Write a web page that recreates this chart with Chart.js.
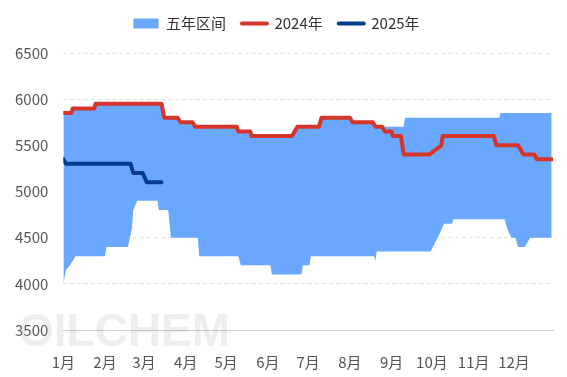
<!DOCTYPE html>
<html>
<head>
<meta charset="utf-8">
<script src="https://cdn.jsdelivr.net/npm/chart.js@4.4.1/dist/chart.umd.min.js"></script>
<style>
  html, body { margin: 0; padding: 0; background: #fff; }
  #wrap { width: 567px; height: 377px; }
</style>
</head>
<body>
<div id="wrap"><canvas id="chart"></canvas></div>
<script>
// ---- Data (x = day of year, 0 = 1 Jan) ----
const monthLabels = ["1月", "2月", "3月", "4月", "5月", "6月", "7月", "8月", "9月", "10月", "11月", "12月"];
const monthStartDays = [0, 31, 60, 91, 121, 152, 182, 213, 244, 274, 305, 335];

// five-year range, upper edge
const rangeMaxDays = [0, 6, 7, 23, 24, 73, 75, 85, 87, 96, 98, 129, 130, 139, 140, 170, 174, 190, 192, 213, 215, 230, 232, 253, 254, 324, 325, 363];
const rangeMaxVals = [5850, 5850, 5900, 5900, 5950, 5950, 5800, 5800, 5750, 5750, 5700, 5700, 5650, 5650, 5600, 5600, 5700, 5700, 5800, 5800, 5750, 5750, 5700, 5700, 5800, 5800, 5850, 5850];

// five-year range, lower edge
const rangeMinDays = [0, 2, 5, 9, 31, 32, 48, 51, 52, 55, 70, 71, 78, 80, 100, 101, 130, 132, 154, 155, 177, 178, 183, 184, 231, 232, 233, 273, 280, 283, 289, 290, 328, 330, 333, 336, 338, 343, 347, 363];
const rangeMinVals = [4000, 4150, 4200, 4300, 4300, 4400, 4400, 4600, 4800, 4900, 4900, 4800, 4800, 4500, 4500, 4300, 4300, 4200, 4200, 4100, 4100, 4200, 4200, 4300, 4300, 4250, 4350, 4350, 4550, 4650, 4650, 4700, 4700, 4600, 4500, 4500, 4400, 4400, 4500, 4500];

const y2024Days = [0, 6, 7, 23, 24, 73, 75, 85, 87, 96, 98, 129, 130, 139, 140, 170, 174, 190, 192, 213, 215, 230, 232, 237, 239, 244, 245, 251, 253, 272, 281, 282, 320, 322, 338, 342, 350, 352, 364];
const y2024Vals = [5850, 5850, 5900, 5900, 5950, 5950, 5800, 5800, 5750, 5750, 5700, 5700, 5650, 5650, 5600, 5600, 5700, 5700, 5800, 5800, 5750, 5750, 5700, 5700, 5650, 5650, 5600, 5600, 5400, 5400, 5500, 5600, 5600, 5500, 5500, 5400, 5400, 5350, 5350];

const y2025Days = [0, 2, 50, 52, 59, 62, 73];
const y2025Vals = [5350, 5300, 5300, 5200, 5200, 5100, 5100];

const BAND = "#6aa7fe";
const RED = "#d6352a";
const NAVY = "#003c8c";
const FONT = "'Noto Sans CJK SC', 'Noto Sans', sans-serif";

const pts = (days, vals) => days.map((d, i) => ({ x: d, y: vals[i] }));

// faint "OILCHEM" mark at the bottom left
const watermark = {
  id: "watermark",
  afterDraw(chart) {
    const ctx = chart.ctx;
    ctx.save();
    ctx.font = "bold 46px 'Liberation Sans', sans-serif";
    ctx.fillStyle = "rgba(170,170,170,0.2)";
    ctx.textBaseline = "middle";
    ctx.fillText("OILCHEM", 18, 333);
    ctx.restore();
  },
};

// leave a bit more room under the legend (legend itself stays put)
const legendGap = {
  id: "legendGap",
  beforeLayout(chart) {
    const lg = chart.legend;
    if (!lg || lg._gapPatched) return;
    const fit = lg.fit.bind(lg);
    lg.fit = function () { fit(); this.height += 12; };
    lg._gapPatched = true;
  },
};

new Chart(document.getElementById("chart"), {
  type: "line",
  data: {
    datasets: [
      { label: "min", data: pts(rangeMinDays, rangeMinVals), order: 3,
        borderColor: "rgba(0,0,0,0)", borderWidth: 1, pointRadius: 0, fill: false },
      { label: "五年区间", data: pts(rangeMaxDays, rangeMaxVals), order: 2,
        borderColor: "rgba(0,0,0,0)", borderWidth: 1, pointRadius: 0,
        fill: "-1", backgroundColor: BAND },
      { label: "2024年", data: pts(y2024Days, y2024Vals), order: 1,
        borderColor: RED, borderWidth: 4, pointRadius: 0, fill: false,
        borderJoinStyle: "round", borderCapStyle: "round" },
      { label: "2025年", data: pts(y2025Days, y2025Vals), order: 0,
        borderColor: NAVY, borderWidth: 4, pointRadius: 0, fill: false,
        borderJoinStyle: "round", borderCapStyle: "round" },
    ],
  },
  options: {
    animation: false,
    responsive: true,
    maintainAspectRatio: false,
    events: [],
    layout: { padding: { left: 0, right: 14, top: 0, bottom: -17 } },
    plugins: {
      tooltip: { enabled: false },
      legend: {
        position: "top",
        labels: {
          usePointStyle: true,
          pointStyleWidth: 25,
          boxHeight: 10,
          padding: 16,
          color: "#333",
          font: { size: 15, family: FONT },
          generateLabels: () => [
            { text: "五年区间", pointStyle: "rect", fillStyle: BAND, strokeStyle: BAND, lineWidth: 0, fontColor: "#333" },
            { text: "2024年", pointStyle: "line", strokeStyle: RED, lineWidth: 4, lineCap: "round", fontColor: "#333" },
            { text: "2025年", pointStyle: "line", strokeStyle: NAVY, lineWidth: 4, lineCap: "round", fontColor: "#333" },
          ],
        },
      },
    },
    scales: {
      x: {
        type: "linear",
        min: 0,
        max: 364,
        afterBuildTicks: axis => { axis.ticks = monthStartDays.map(v => ({ value: v })); },
        ticks: {
          autoSkip: false,
          maxRotation: 0,
          padding: 23,
          color: "#555",
          font: { size: 15, family: FONT },
          callback: v => monthLabels[monthStartDays.indexOf(v)],
        },
        grid: { drawOnChartArea: false, drawTicks: false },
        border: { color: "#ccc" },
      },
      y: {
        min: 3500,
        max: 6500,
        ticks: { stepSize: 500, padding: 15, color: "#555", font: { size: 15, family: FONT },
                 callback: v => String(v) },
        grid: { color: "#e0e0e0", drawTicks: false },
        border: { display: false, dash: [4, 3] },
      },
    },
  },
  plugins: [watermark, legendGap],
});
</script>
</body>
</html>
